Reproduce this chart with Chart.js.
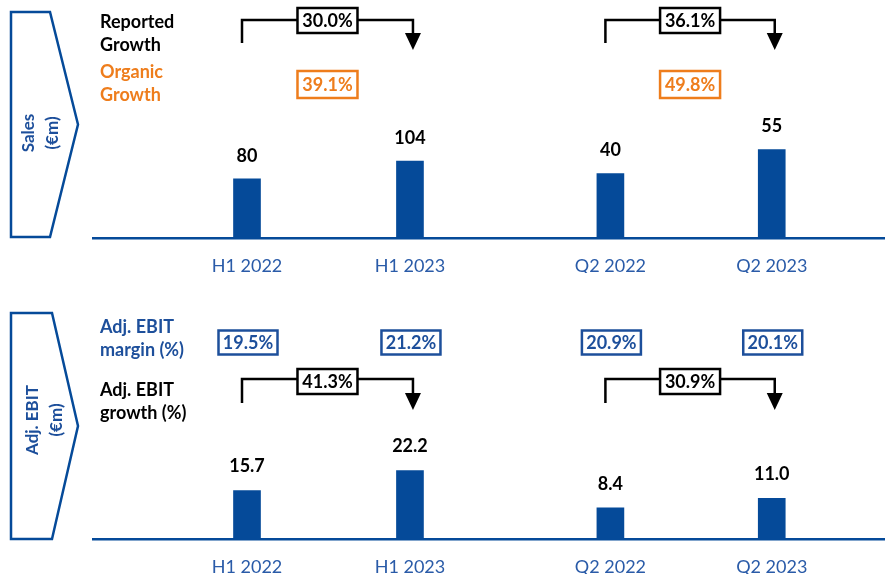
<!DOCTYPE html>
<html>
<head>
<meta charset="utf-8">
<title>Sales and Adj. EBIT</title>
<script src="https://cdn.jsdelivr.net/npm/chart.js@4.4.0/dist/chart.umd.min.js"></script>
<style>
  html, body { margin: 0; padding: 0; background: #fff; overflow: hidden; }
  #wrap { position: relative; width: 885px; height: 574px; }
  canvas { position: absolute; left: 0; }
  #salesChart { top: 0; }
  #ebitChart { top: 287px; }
</style>
</head>
<body>
<div id="wrap">
  <canvas id="salesChart" width="885" height="287"></canvas>
  <canvas id="ebitChart" width="885" height="287"></canvas>
</div>
<script>
// Data
const categories = ['H1 2022', 'H1 2023', 'Q2 2022', 'Q2 2023'];
const salesValues = [80, 104, 40, 55];
const reportedGrowth = ['30.0%', '36.1%'];
const organicGrowth = ['39.1%', '49.8%'];
const ebitValues = [15.7, 22.2, 8.4, 11.0];
const ebitMargin = ['19.5%', '21.2%', '20.9%', '20.1%'];
const ebitGrowth = ['41.3%', '30.9%'];

// Layout: x slot of each category (the H1 pair and the Q2 pair sit apart)
const slots = [0, 1, 2.23, 3.22];

// Styles
const BAR_BLUE = '#054a99';
const LABEL_BLUE = '#2a5ba8';
const TEXT_BLUE = '#1d4f9b';
const ORANGE = '#ee7d1c';
const BLACK = '#000000';
const FONT = 'Lato, "Noto Sans", sans-serif';

// Helpers
function pairData(values, from) {
    return [from, from + 1].map(i => ({ x: slots[i], y: values[i] }));
}

function barsOf(chart) {
    const a = chart.getDatasetMeta(0).data;
    const b = chart.getDatasetMeta(1).data;
    return [a[0], a[1], b[0], b[1]];
}

function drawText(ctx, text, x, y, color, align = 'left', size = 18, weight = 'bold') {
    ctx.save();
    ctx.font = `${weight} ${size}px ${FONT}`;
    ctx.fillStyle = color;
    ctx.textAlign = align;
    ctx.textBaseline = 'middle';
    ctx.fillText(text, x, y);
    ctx.restore();
}

function drawBox(ctx, cx, cy, w, h, text, color) {
    ctx.save();
    ctx.fillStyle = '#fff';
    ctx.fillRect(cx - w / 2, cy - h / 2, w, h);
    ctx.strokeStyle = color;
    ctx.lineWidth = 2.5;
    ctx.strokeRect(cx - w / 2, cy - h / 2, w, h);
    ctx.restore();
    drawText(ctx, text, cx, cy + 1, color, 'center');
}

// Elbow arrow from one bar to the next one
function drawBracket(ctx, x1, x2, yTop, yLeft, yTip) {
    ctx.save();
    ctx.strokeStyle = BLACK;
    ctx.lineWidth = 2.5;
    ctx.beginPath();
    ctx.moveTo(x1, yLeft);
    ctx.lineTo(x1, yTop);
    ctx.lineTo(x2, yTop);
    ctx.lineTo(x2, yTip - 16);
    ctx.stroke();
    ctx.fillStyle = BLACK;
    ctx.beginPath();
    ctx.moveTo(x2 - 8, yTip - 17);
    ctx.lineTo(x2 + 8, yTip - 17);
    ctx.lineTo(x2, yTip);
    ctx.closePath();
    ctx.fill();
    ctx.restore();
}

function drawChevron(ctx, top, bottom, rectRight, tipX, lines, lineXs, textY) {
    ctx.save();
    ctx.strokeStyle = BAR_BLUE;
    ctx.lineWidth = 2.5;
    ctx.beginPath();
    ctx.moveTo(11, top);
    ctx.lineTo(rectRight, top);
    ctx.lineTo(tipX, (top + bottom) / 2);
    ctx.lineTo(rectRight, bottom);
    ctx.lineTo(11, bottom);
    ctx.closePath();
    ctx.stroke();
    ctx.font = `bold 17px ${FONT}`;
    ctx.fillStyle = TEXT_BLUE;
    ctx.textAlign = 'center';
    ctx.textBaseline = 'middle';
    lines.forEach((line, i) => {
        ctx.save();
        ctx.translate(lineXs[i], textY);
        ctx.rotate(-Math.PI / 2);
        ctx.fillText(line, 0, 0);
        ctx.restore();
    });
    ctx.restore();
}

// Annotations
const salesNotes = {
    id: 'salesNotes',
    afterDraw(chart) {
        const ctx = chart.ctx;
        const bars = barsOf(chart);
        drawChevron(ctx, 12, 237, 50, 78, ['Sales', '(€m)'], [29, 53], 133);
        drawText(ctx, 'Reported', 100, 22, BLACK);
        drawText(ctx, 'Growth', 100, 45, BLACK);
        drawText(ctx, 'Organic', 100, 72, ORANGE);
        drawText(ctx, 'Growth', 100, 95, ORANGE);
        [0, 2].forEach((b, k) => {
            const x1 = bars[b].x - 5;
            const x2 = bars[b + 1].x + 3;
            drawBracket(ctx, x1, x2, 20, 43, 50);
            drawBox(ctx, (x1 + x2) / 2, 20.5, 60, 25, reportedGrowth[k], BLACK);
            drawBox(ctx, (x1 + x2) / 2, 84.5, 60, 27, organicGrowth[k], ORANGE);
        });
        bars.forEach((bar, i) => drawText(ctx, String(salesValues[i]), bar.x, bar.y - 23, BLACK, 'center'));
    }
};

const ebitNotes = {
    id: 'ebitNotes',
    afterDraw(chart) {
        const ctx = chart.ctx;
        const bars = barsOf(chart);
        drawChevron(ctx, 26, 252, 52, 78, ['Adj. EBIT', '(€m)'], [33, 57], 133);
        drawText(ctx, 'Adj. EBIT', 100, 40, TEXT_BLUE);
        drawText(ctx, 'margin (%)', 100, 63, TEXT_BLUE);
        drawText(ctx, 'Adj. EBIT', 100, 103, BLACK);
        drawText(ctx, 'growth (%)', 100, 126, BLACK);
        bars.forEach((bar, i) => drawBox(ctx, bar.x + 1, 55.5, 59, 24, ebitMargin[i], TEXT_BLUE));
        [0, 2].forEach((b, k) => {
            const x1 = bars[b].x - 5;
            const x2 = bars[b + 1].x + 3;
            drawBracket(ctx, x1, x2, 92, 116, 123);
            drawBox(ctx, (x1 + x2) / 2, 94.5, 60, 25, ebitGrowth[k], BLACK);
        });
        bars.forEach((bar, i) => drawText(ctx, ebitValues[i].toFixed(1), bar.x, bar.y - 24, BLACK, 'center'));
    }
};

// Chart factory: H1 bars and Q2 bars each have their own hidden value axis
function makeChart(id, values, maxH1, maxQ2, padTop, padBottom, notes) {
    const barStyle = { backgroundColor: BAR_BLUE, barThickness: 27, grouped: false };
    return new Chart(document.getElementById(id), {
        type: 'bar',
        data: {
            datasets: [
                { ...barStyle, data: pairData(values, 0), yAxisID: 'yH' },
                { ...barStyle, data: pairData(values, 2), yAxisID: 'yQ' }
            ]
        },
        options: {
            responsive: false,
            animation: false,
            layout: { padding: { left: 93, right: 0, top: padTop, bottom: padBottom } },
            plugins: { legend: { display: false }, tooltip: { enabled: false } },
            scales: {
                x: {
                    type: 'linear',
                    bounds: 'data',
                    offset: false,
                    min: -0.945,
                    max: 3.915,
                    grid: { display: false, drawTicks: false, offset: false },
                    border: { color: BAR_BLUE, width: 2.5 },
                    afterBuildTicks: axis => { axis.ticks = slots.map(v => ({ value: v })); },
                    afterFit: axis => { axis.height = 35; },
                    ticks: {
                        autoSkip: false,
                        maxRotation: 0,
                        padding: 19,
                        color: LABEL_BLUE,
                        font: { family: FONT, size: 18, lineHeight: 1 },
                        callback: (v, i) => categories[i]
                    }
                },
                yH: { display: false, min: 0, max: maxH1 },
                yQ: { display: false, min: 0, max: maxQ2 }
            }
        },
        plugins: [notes]
    });
}

document.addEventListener('DOMContentLoaded', () => {
    makeChart('salesChart', salesValues, 200, 92, 90, 14, salesNotes);
    makeChart('ebitChart', ebitValues, 48, 40, 104, 0, ebitNotes);
});
</script>
</body>
</html>
